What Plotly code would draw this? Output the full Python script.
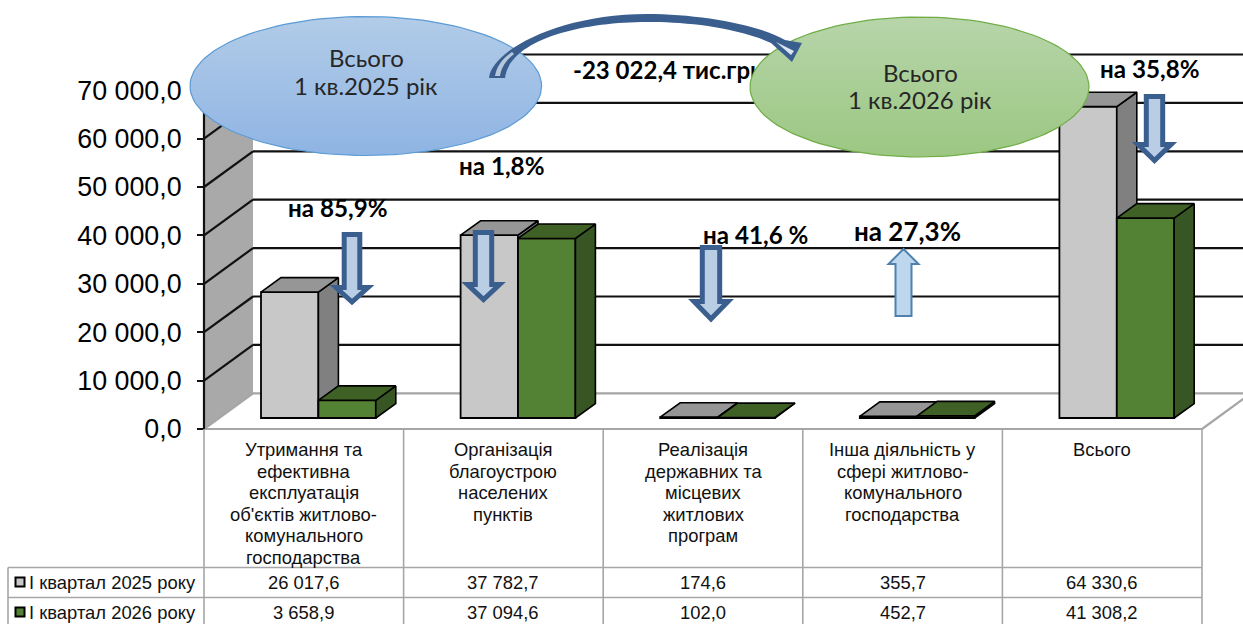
import math
import plotly.graph_objects as go

# ---------- data ----------
categories = [
    "Утримання та<br>ефективна<br>експлуатація<br>об'єктів житлово-<br>комунального<br>господарства",
    "Організація<br>благоустрою<br>населених<br>пунктів",
    "Реалізація<br>державних та<br>місцевих<br>житлових<br>програм",
    "Інша діяльність у<br>сфері житлово-<br>комунального<br>господарства",
    "Всього",
]
series_2025_name = "І квартал 2025 року"
series_2026_name = "І квартал 2026 року"
values_2025 = [26017.6, 37782.7, 174.6, 355.7, 64330.6]
values_2026 = [3658.9, 37094.6, 102.0, 452.7, 41308.2]
tick_values = [0, 10000, 20000, 30000, 40000, 50000, 60000, 70000]
tick_labels = ["0,0", "10 000,0", "20 000,0", "30 000,0", "40 000,0", "50 000,0", "60 000,0", "70 000,0"]

W, H = 1243, 624
X0, Y0 = 204.0, 429.0          # pixel of category origin / value zero
CAT_PX, VAL_PX = 199.6, 0.00484


def dx(px):
    return px / CAT_PX


def dy(px):
    return px / VAL_PX


def xd(px):
    return (px - X0) / CAT_PX


def yd(py):
    return (Y0 - py) / VAL_PX


def fx(px):
    return px / W


def fy(py):
    return 1 - py / H


FLOOR_DX, FLOOR_DY = dx(49), dy(35.7)
BAR_BASE = dy(11)
BAR_W = dx(57.4)
BAR_DX, BAR_DY = dx(20), dy(14.4)
BAR_START = dx(57)
GRID = "#A6A6A6"

fig = go.Figure()


def add(trace, layer=""):
    trace.update(xaxis="x" + layer, yaxis="y" + layer, showlegend=False, hoverinfo="skip")
    fig.add_trace(trace)


def poly(points, fill, line="black", width=1.6, layer=""):
    xs, ys = [], []
    for p in points:
        xs += [q[0] for q in p] + [p[0][0], None]
        ys += [q[1] for q in p] + [p[0][1], None]
    add(go.Scatter(x=xs, y=ys, mode="lines", fill="toself", fillcolor=fill,
                   line=dict(color=line, width=width)), layer)


def seg(points, color, width):
    xs, ys = [], []
    for p in points:
        xs += [p[0][0], p[1][0], None]
        ys += [p[0][1], p[1][1], None]
    add(go.Scatter(x=xs, y=ys, mode="lines", line=dict(color=color, width=width)))


# ---------- walls and grid (base layer) ----------
top = tick_values[-1]
poly([[(0, 0), (FLOOR_DX, FLOOR_DY), (FLOOR_DX, top + FLOOR_DY), (0, top)]], "#A9A9A9", line="rgba(0,0,0,0)", width=0)
right = xd(W)
seg([[(0, v), (FLOOR_DX, v + FLOOR_DY)] for v in tick_values[1:]]
    + [[(FLOOR_DX, v + FLOOR_DY), (right, v + FLOOR_DY)] for v in tick_values[1:]], "#111111", 2.2)
seg([[(0, 0), (FLOOR_DX, FLOOR_DY)], [(FLOOR_DX, FLOOR_DY), (right, FLOOR_DY)],
     [(5, 0), (5 + FLOOR_DX, FLOOR_DY)], [(0, 0), (5, 0)]], GRID, 2.2)
seg([[(0, 0), (0, top)]], "#111111", 2.2)

# ---------- table lines ----------
seg([[(i, 0), (i, yd(H))] for i in range(6)]
    + [[(xd(8), yd(567.5)), (5, yd(567.5))], [(xd(8), yd(597.5)), (5, yd(597.5))],
       [(xd(8), yd(567.5)), (xd(8), yd(H))]], GRID, 1.6)

# text that the green ellipse covers
add(go.Scatter(x=[xd(573)], y=[yd(73)], mode="text", text=["-23 022,4 тис.грн"], textposition="middle right",
               textfont=dict(family="Lato, Carlito, Open Sans", size=24, color="black", weight="bold")))


# ---------- 3D bars ----------
def bars(values, offset, name, front, side, roof, layer):
    xs = [i + offset for i in range(len(values))]
    add(go.Bar(x=xs, y=values, base=BAR_BASE, width=BAR_W, name=name, marker=dict(color=front, line=dict(color="black", width=1.8))), layer)
    sides, roofs = [], []
    for x, v in zip(xs, values):
        l, r, t = x - BAR_W / 2, x + BAR_W / 2, v + BAR_BASE
        sides.append([(r, BAR_BASE), (r + BAR_DX, BAR_BASE + BAR_DY), (r + BAR_DX, t + BAR_DY), (r, t)])
        roofs.append([(l, t), (l + BAR_DX, t + BAR_DY), (r + BAR_DX, t + BAR_DY), (r, t)])
    poly(sides, side, layer=layer)
    poly(roofs, roof, layer=layer)


bars(values_2025, BAR_START + BAR_W / 2, series_2025_name, "#C8C8C8", "#808080", "#969696", "2")
bars(values_2026, BAR_START + BAR_W * 1.5, series_2026_name, "#548235", "#375623", "#3F6125", "3")


# ---------- ellipses (top trace layer) ----------
def ellipse(cx, cy, rx, ry, c1, c2, line):
    n = 120
    px = [cx + rx * math.cos(2 * math.pi * k / n) for k in range(n + 1)]
    py = [cy + ry * math.sin(2 * math.pi * k / n) for k in range(n + 1)]
    add(go.Scatter(x=[xd(p) for p in px], y=[yd(p) for p in py], mode="lines", fill="toself",
                   fillgradient=dict(type="vertical", colorscale=[[0, c2], [1, c1]]),
                   line=dict(color=line, width=1.2)), "4")


ellipse(365.8, 86, 175.8, 69.5, "#B2CCE8", "#8FB4E3", "#5B9BD5")
ellipse(919.5, 87, 169.5, 70, "#B7D5AA", "#9CC782", "#70AD47")

# legend keys inside the table
add(go.Scatter(x=[xd(20)], y=[yd(582)], mode="markers", marker=dict(symbol="square", size=9, color="#C8C8C8", line=dict(color="black", width=2))), "4")
add(go.Scatter(x=[xd(20)], y=[yd(612)], mode="markers", marker=dict(symbol="square", size=9, color="#548235", line=dict(color="black", width=2))), "4")


# ---------- block arrows ----------
def path(cmds):
    out = []
    for c in cmds:
        if isinstance(c, str):
            out.append(c)
        else:
            out.append(f"{fx(c[0]):.5f},{fy(c[1]):.5f}")
    return " ".join(out)


shapes = []


def arrow(cx, y_tail, y_head, y_tip, shaft, head, stroke, fill, w):
    cmds = ["M", (cx - shaft, y_tail), "L", (cx + shaft, y_tail), "L", (cx + shaft, y_head), "L", (cx + head, y_head),
            "L", (cx, y_tip), "L", (cx - head, y_head), "L", (cx - shaft, y_head), "Z"]
    shapes.append(dict(type="path", xref="paper", yref="paper", path=path(cmds), fillcolor=fill,
                       line=dict(color=stroke, width=w), layer="above"))


DARK, LIGHT = "#3A5F8F", "#B9CDE5"
arrow(352, 234.5, 287.5, 302, 7.8, 16, DARK, LIGHT, 5)
arrow(483.5, 232.5, 284.5, 299.5, 8.2, 16, DARK, LIGHT, 5)
arrow(711, 247.5, 301.5, 319, 8.7, 17, DARK, LIGHT, 5)
arrow(1154.5, 96.5, 144.5, 160.5, 8.2, 16.5, DARK, LIGHT, 5)
arrow(903.5, 316, 264, 249, 8, 15, "#4F81AD", "#BDD7EE", 2)

shapes.append(dict(type="path", xref="paper", yref="paper", fillcolor=DARK, line=dict(width=0), layer="above", path=path(
    ["M", (489, 78), "C", (492, 50), (560, 14), (647, 14), "C", (700, 14), (760, 25), (785, 40), "L", (802, 43), "L", (792, 62),
     "L", (771, 43), "L", (759, 38), "C", (720, 25), (680, 22), (647, 22), "C", (580, 22), (510, 40), (505, 78), "Z"])))
shapes.append(dict(type="path", xref="paper", yref="paper", fillcolor="#B8C8DC", line=dict(width=0), layer="above", path=path(
    ["M", (495, 76), "C", (497, 65), (503, 58), (512, 52), "L", (514, 54), "C", (506, 60), (501, 68), (500, 76), "Z"])))
shapes.append(dict(type="path", xref="paper", yref="paper", fillcolor="#DCE6F2", line=dict(width=0), layer="above", path=path(
    ["M", (776, 42), "L", (794, 51), "L", (791, 55), "Z"])))

# ---------- annotations ----------
anns = []


def ann(text, px, py, size, family="Liberation Sans", bold=False, xanchor="center", yanchor="middle", color="black"):
    anns.append(dict(text=f"<b>{text}</b>" if bold else text, x=fx(px), y=fy(py), xref="paper", yref="paper",
                     xanchor=xanchor, yanchor=yanchor, showarrow=False, align="center", borderpad=0,
                     font=dict(family=family, size=size, color=color)))


CALIBRI = "Lato, Carlito, Open Sans"
ann("Всього", 366, 57, 24, CALIBRI, color="#262626")
ann("1 кв.2025 рік", 366, 85.5, 24, CALIBRI, color="#262626")
ann("Всього", 920, 72, 24, CALIBRI, color="#262626")
ann("1 кв.2026 рік", 920, 99.5, 24, CALIBRI, color="#262626")
ann("на 85,9%", 337.5, 207.5, 24.2, CALIBRI, True)
ann("на 1,8%", 501, 166, 24.2, CALIBRI, True)
ann("на 41,6 %", 755.5, 234, 24.2, CALIBRI, True)
ann("на 27,3%", 907.5, 231, 26, CALIBRI, True)
ann("на 35,8%", 1149.5, 68.5, 24.2, CALIBRI, True)


def fmt(v):
    return f"{v:,.1f}".replace(",", " ").replace(".", ",")


TABLE_SIZE = 18.4
for i, c in enumerate(categories):
    cx = X0 + CAT_PX * (i + 0.5)
    for k, line in enumerate(c.split("<br>")):
        ann(line, cx, 449.5 + 21.6 * k, TABLE_SIZE, color="#111111")
    ann(fmt(values_2025[i]), cx, 582, TABLE_SIZE, color="#111111")
    ann(fmt(values_2026[i]), cx, 612.5, TABLE_SIZE, color="#111111")
ann(series_2025_name, 28, 582, TABLE_SIZE, xanchor="left", color="#111111")
ann(series_2026_name, 28, 612.5, TABLE_SIZE, xanchor="left", color="#111111")

# ---------- layout ----------
xr = [xd(0), xd(W)]
yr = [yd(H), yd(0)]
layout = dict(
    width=W, height=H, margin=dict(l=0, r=0, t=0, b=0), autosize=False,
    paper_bgcolor="white", plot_bgcolor="white", barmode="overlay", showlegend=False,
    shapes=shapes, annotations=anns,
    xaxis=dict(range=xr, visible=False),
    yaxis=dict(range=yr, anchor="free", position=X0 / W, tickmode="array", tickvals=tick_values, ticktext=tick_labels,
               showgrid=False, zeroline=False, showline=False, ticks="outside", ticklen=7, tickwidth=1.6, tickcolor="#111111",
               ticklabelstandoff=10, layer="below traces",
               tickfont=dict(family="Liberation Sans", size=26.8, color="black")),
)
for n in ("2", "3", "4"):
    layout["xaxis" + n] = dict(range=xr, visible=False, overlaying="x")
    layout["yaxis" + n] = dict(range=yr, visible=False, overlaying="y")
fig.update_layout(**layout)
fig.write_html("out.html", config={"displayModeBar": False}, post_script="document.body.style.margin='0';")
